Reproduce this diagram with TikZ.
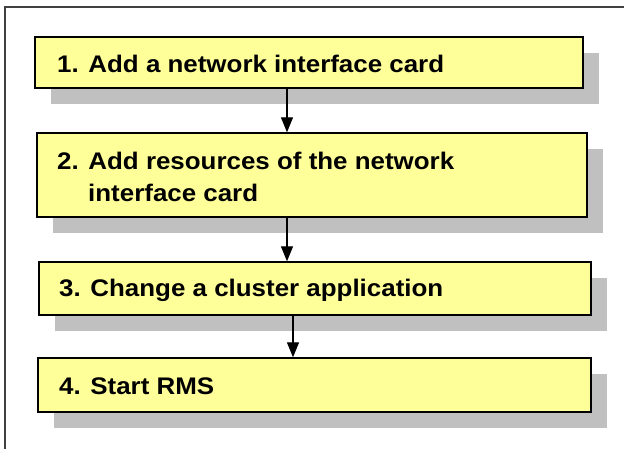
\documentclass[tikz,border=0pt]{standalone}
\usepackage{fontspec}
\setmainfont{Liberation Sans}[FakeStretch=1.08]
\usetikzlibrary{arrows.meta,shadows}
\definecolor{boxyellow}{HTML}{FFFF99}
\definecolor{shadowgray}{HTML}{C0C0C0}
\definecolor{framegray}{HTML}{404040}
\begin{document}
\begin{tikzpicture}[x=1pt,y=-1pt,
  stepbox/.style={draw=black, line width=1.4pt, fill=boxyellow, rectangle,
    inner sep=0pt,
    drop shadow={shadow xshift=16pt, shadow yshift=-16pt, fill=shadowgray, opacity=1}},
  steptext/.style={anchor=base west, inner sep=0pt, font=\fontsize{24}{32}\selectfont\bfseries},
  arr/.style={draw=black, line width=1.2pt, -{Triangle[width=12pt,length=15pt]}},
  frameline/.style={draw=framegray, line width=2pt}]
\useasboundingbox (0,0) rectangle (624,449);
\draw[frameline] (5,449) -- (5,7) -- (624,7);
\node[stepbox, minimum width=548pt, minimum height=51pt] (b1) at (309,62.5) {};
\node[stepbox, minimum width=550pt, minimum height=84pt] (b2) at (312,175) {};
\node[stepbox, minimum width=552pt, minimum height=53pt] (b3) at (315,288.5) {};
\node[stepbox, minimum width=553pt, minimum height=54pt] (b4) at (314.5,385) {};
\node[steptext] (t1) at (57,73) {1. Add a network interface card};
\node[steptext] (t2a) at (57,170) {2. Add resources of the network};
\node[steptext] (t2b) at (88,202) {interface card};
\node[steptext] (t3) at (59,297) {3. Change a cluster application};
\node[steptext] (t4) at (59,394) {4. Start RMS};
\coordinate (x1) at (287,0);
\coordinate (x3) at (293,0);
\draw[arr] (b1.south -| x1) -- (b2.north -| x1);
\draw[arr] (b2.south -| x1) -- (b3.north -| x1);
\draw[arr] (b3.south -| x3) -- (b4.north -| x3);
\end{tikzpicture}
\end{document}
